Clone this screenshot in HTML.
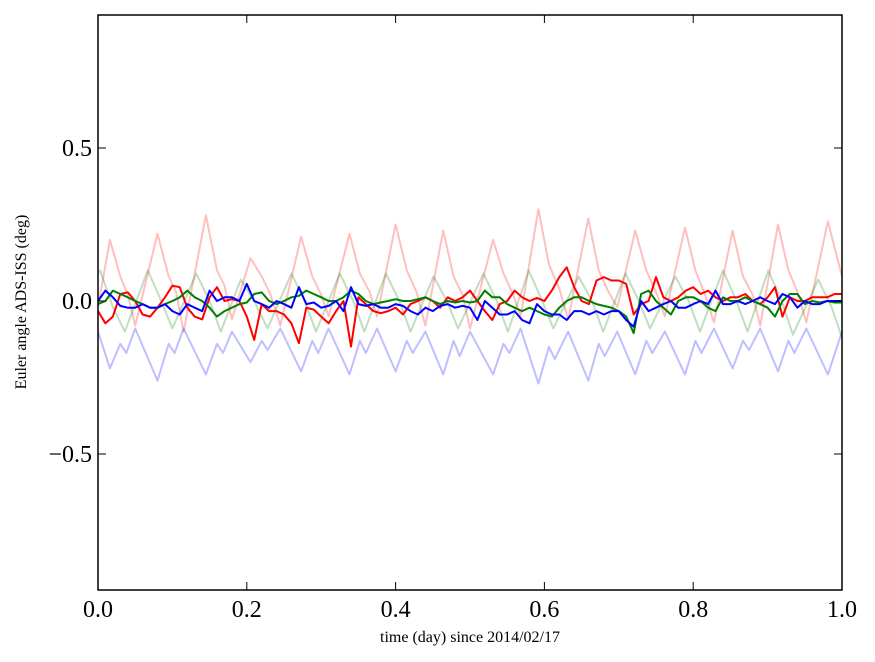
<!DOCTYPE html>
<html><head><meta charset="utf-8"><style>
body{margin:0;background:#fff;}
svg{display:block;font-family:"Liberation Serif",serif;}
</style></head><body>
<svg id="chart" width="875" height="662">
<rect x="0" y="0" width="875" height="662" fill="#fff"/>
<g id="series"></g>
<g id="axes"></g>
<rect x="98" y="15" width="744" height="575" fill="none" stroke="#000" stroke-width="1.5"/>
<text x="470" y="642" text-anchor="middle" font-size="16">time (day) since 2014/02/17</text>
<text transform="translate(26,302) rotate(-90)" text-anchor="middle" font-size="16">Euler angle ADS-ISS (deg)</text>
</svg>
<script>
const xTicks=[0,0.2,0.4,0.6,0.8,1.0];
const xTickLabels=["0.0","0.2","0.4","0.6","0.8","1.0"];
const yTicks=[0.5,0,-0.5];
const yTickLabels=["0.5","0.0","\u22120.5"];
const mainT=[0,0.01,0.02,0.03,0.04,0.05,0.06,0.07,0.08,0.09,0.10,0.11,0.12,0.13,0.14,0.15,0.16,0.17,0.18,0.19,0.20,0.21,0.22,0.23,0.24,0.25,0.26,0.27,0.28,0.29,0.30,0.31,0.32,0.33,0.34,0.35,0.36,0.37,0.38,0.39,0.40,0.41,0.42,0.43,0.44,0.45,0.46,0.47,0.48,0.49,0.50,0.51,0.52,0.53,0.54,0.55,0.56,0.57,0.58,0.59,0.60,0.61,0.62,0.63,0.64,0.65,0.66,0.67,0.68,0.69,0.70,0.71,0.72,0.73,0.74,0.75,0.76,0.77,0.78,0.79,0.80,0.81,0.82,0.83,0.84,0.85,0.86,0.87,0.88,0.89,0.90,0.91,0.92,0.93,0.94,0.95,0.96,0.97,0.98,0.99,1.00];
const redVals=[-0.033,-0.073,-0.051,0.023,0.028,0,-0.044,-0.051,-0.022,0.012,0.05,0.045,-0.022,-0.051,-0.06,0.012,0.045,0,0.006,0,-0.051,-0.127,-0.01,-0.033,-0.033,-0.044,-0.073,-0.138,-0.022,-0.028,-0.051,-0.073,-0.033,0,-0.149,0.012,-0.01,-0.033,-0.04,-0.033,-0.022,-0.044,-0.01,0,0.012,0,-0.022,0.012,0,0.012,0.034,0,-0.033,-0.062,-0.01,0,0.034,0.012,0,0.01,0,0.034,0.078,0.11,0.045,0,-0.01,0.067,0.078,0.067,0.067,0.056,-0.044,-0.01,0,0.078,0.012,0,0.012,0.034,0.045,0.023,0.034,0.012,0,0.012,0.012,0.023,0,-0.01,0.012,0.045,-0.051,0.012,0,0,0.012,0.012,0.012,0.023,0.023];
const greenVals=[-0.01,0,0.034,0.023,0.012,0,-0.01,-0.022,-0.022,-0.01,0,0.012,0.034,0.012,0,-0.022,-0.051,-0.033,-0.022,-0.01,-0.005,0.023,0.028,0,-0.01,0,0.012,0.017,0.034,0.023,0.012,0,0,0.012,0.034,0.023,0,-0.01,-0.005,0,0.006,0,0,0.006,0.012,0,-0.01,0,-0.005,0,-0.005,0,0.034,0.012,0.012,-0.01,-0.022,-0.033,-0.022,-0.033,-0.044,-0.051,-0.022,0,0.012,0.012,0,-0.01,-0.016,-0.022,-0.033,-0.051,-0.105,0.023,0.034,0,-0.022,-0.044,0,0.012,0.012,0,-0.022,-0.033,0.012,0,0,0.012,0,-0.01,-0.022,-0.051,0,0.023,0.023,-0.01,0,-0.005,0,-0.005,-0.005];
const blueVals=[0,0.034,0.012,-0.016,-0.022,-0.022,-0.01,-0.022,-0.022,-0.01,-0.033,-0.044,-0.01,-0.022,-0.033,0.034,0,0.012,0.012,0,0.056,0,-0.01,-0.022,0,-0.01,-0.022,0.045,-0.01,-0.005,-0.022,-0.016,0,-0.033,0.045,-0.01,-0.016,-0.01,-0.022,-0.022,-0.01,-0.016,-0.033,-0.044,-0.022,-0.033,-0.016,-0.01,-0.022,-0.016,-0.022,-0.062,0,-0.022,-0.044,-0.044,-0.033,-0.062,-0.073,-0.01,-0.033,-0.044,-0.044,-0.062,-0.033,-0.033,-0.044,-0.033,-0.044,-0.033,-0.033,-0.062,-0.084,0,-0.033,-0.022,-0.01,0,-0.022,-0.022,-0.01,0,-0.01,0.034,-0.01,-0.01,0,-0.01,0,0.012,0,-0.01,0.023,0.012,-0.022,0,-0.01,-0.01,0,0,0];
const pinkT=[0,0.016,0.030,0.040,0.050,0.080,0.095,0.105,0.115,0.145,0.160,0.170,0.180,0.205,0.220,0.232,0.245,0.273,0.288,0.300,0.310,0.338,0.352,0.365,0.375,0.400,0.415,0.428,0.440,0.464,0.478,0.490,0.500,0.531,0.545,0.558,0.568,0.592,0.606,0.620,0.632,0.659,0.673,0.686,0.698,0.722,0.737,0.750,0.762,0.789,0.803,0.816,0.828,0.853,0.867,0.880,0.890,0.914,0.928,0.940,0.952,0.981,1.000];
const pinkVals=[-0.02,0.20,0.08,0.02,-0.08,0.22,0.08,0.03,-0.10,0.28,0.10,0.05,-0.06,0.14,0.08,0.02,-0.08,0.21,0.08,0.02,-0.05,0.22,0.09,0.03,-0.05,0.25,0.10,0.03,-0.08,0.23,0.08,0.02,-0.09,0.20,0.09,0.02,-0.05,0.30,0.12,0.04,-0.06,0.27,0.10,0.03,-0.02,0.23,0.10,0.03,-0.05,0.24,0.10,0.02,-0.07,0.23,0.08,0.02,-0.08,0.25,0.10,0.03,-0.07,0.26,0.08];
const lblueT=[0,0.016,0.030,0.038,0.050,0.080,0.095,0.103,0.115,0.145,0.160,0.168,0.180,0.205,0.220,0.228,0.245,0.273,0.288,0.296,0.310,0.338,0.352,0.360,0.375,0.400,0.415,0.423,0.440,0.464,0.478,0.486,0.500,0.531,0.545,0.553,0.568,0.592,0.606,0.614,0.632,0.659,0.673,0.681,0.698,0.722,0.737,0.745,0.762,0.789,0.803,0.811,0.828,0.853,0.867,0.875,0.890,0.914,0.928,0.936,0.952,0.981,1.000];
const lblueVals=[-0.10,-0.22,-0.14,-0.17,-0.09,-0.26,-0.14,-0.17,-0.09,-0.24,-0.14,-0.17,-0.10,-0.20,-0.13,-0.16,-0.09,-0.23,-0.13,-0.17,-0.09,-0.24,-0.13,-0.17,-0.09,-0.23,-0.13,-0.17,-0.10,-0.24,-0.13,-0.18,-0.10,-0.24,-0.14,-0.17,-0.09,-0.27,-0.15,-0.19,-0.10,-0.26,-0.14,-0.18,-0.10,-0.24,-0.13,-0.17,-0.10,-0.24,-0.13,-0.17,-0.09,-0.22,-0.13,-0.16,-0.09,-0.23,-0.13,-0.17,-0.09,-0.24,-0.10];
const lgreenT=[0,0.003,0.020,0.036,0.067,0.085,0.100,0.132,0.150,0.165,0.192,0.210,0.228,0.260,0.278,0.293,0.325,0.343,0.358,0.387,0.405,0.420,0.451,0.469,0.484,0.518,0.536,0.551,0.579,0.597,0.612,0.646,0.664,0.679,0.709,0.727,0.742,0.776,0.794,0.809,0.840,0.858,0.873,0.901,0.919,0.934,0.968,0.986,1.000];
const lgreenVals=[0.09,0.10,-0.02,-0.10,0.10,0.0,-0.09,0.09,0.0,-0.10,0.07,0.0,-0.09,0.09,0.0,-0.10,0.09,0.0,-0.10,0.09,0.0,-0.10,0.08,0.0,-0.09,0.09,0.0,-0.10,0.10,0.0,-0.09,0.08,0.0,-0.10,0.09,0.0,-0.09,0.08,0.0,-0.10,0.10,0.0,-0.10,0.10,0.0,-0.11,0.07,-0.02,-0.12];

const X0=98,X1=842,Y0=15,Y1=590;
function xs(v){return X0+(v-0)/(1-0)*(X1-X0);}
function ys(v){return 301-v*306;}
const NS='http://www.w3.org/2000/svg';
const sg=document.getElementById('series');
const ag=document.getElementById('axes');
function line(ts,vals,color,op,name){
  const p=document.createElementNS(NS,'path');
  let d='';
  for(let i=0;i<ts.length;i++){d+=(i?'L':'M')+xs(ts[i]).toFixed(1)+','+ys(vals[i]).toFixed(1);}
  p.setAttribute('d',d);
  p.setAttribute('fill','none');
  p.setAttribute('stroke',color);
  p.setAttribute('stroke-opacity',op);
  p.setAttribute('stroke-width','2');
  p.setAttribute('stroke-linejoin','round');
  
  
  sg.appendChild(p);
}
line(pinkT,pinkVals,'#ff0000',0.25,'red-raw-line');
line(lgreenT,lgreenVals,'#008000',0.25,'green-raw-line');
line(lblueT,lblueVals,'#0000ff',0.25,'blue-raw-line');
line(mainT,redVals,'#ff0000',1,'red-line');
line(mainT,greenVals,'#008000',1,'green-line');
line(mainT,blueVals,'#0000ff',1,'blue-line');
function tk(x1,y1,x2,y2,name){
  const l=document.createElementNS(NS,'line');
  l.setAttribute('x1',x1);l.setAttribute('y1',y1);l.setAttribute('x2',x2);l.setAttribute('y2',y2);
  l.setAttribute('stroke','#000');l.setAttribute('stroke-width','1');
  
  
  ag.appendChild(l);
}
function txt(x,y,s,anchor,name){
  const t=document.createElementNS(NS,'text');
  t.setAttribute('x',x);t.setAttribute('y',y);t.setAttribute('text-anchor',anchor);
  t.setAttribute('font-size','24');t.textContent=s;
  
  
  ag.appendChild(t);
}
xTicks.forEach((v,i)=>{const x=xs(v);tk(x,Y1,x,Y1-8,'x-tick');tk(x,Y0,x,Y0+8,'x-tick-top');txt(x,Y1+27,xTickLabels[i],'middle','x-tick-label');});
yTicks.forEach((v,i)=>{const y=ys(v);tk(X0,y,X0+8,y,'y-tick');tk(X1,y,X1-8,y,'y-tick-right');txt(X0-6,y+8,yTickLabels[i],'end','y-tick-label');});
</script>
</body></html>
